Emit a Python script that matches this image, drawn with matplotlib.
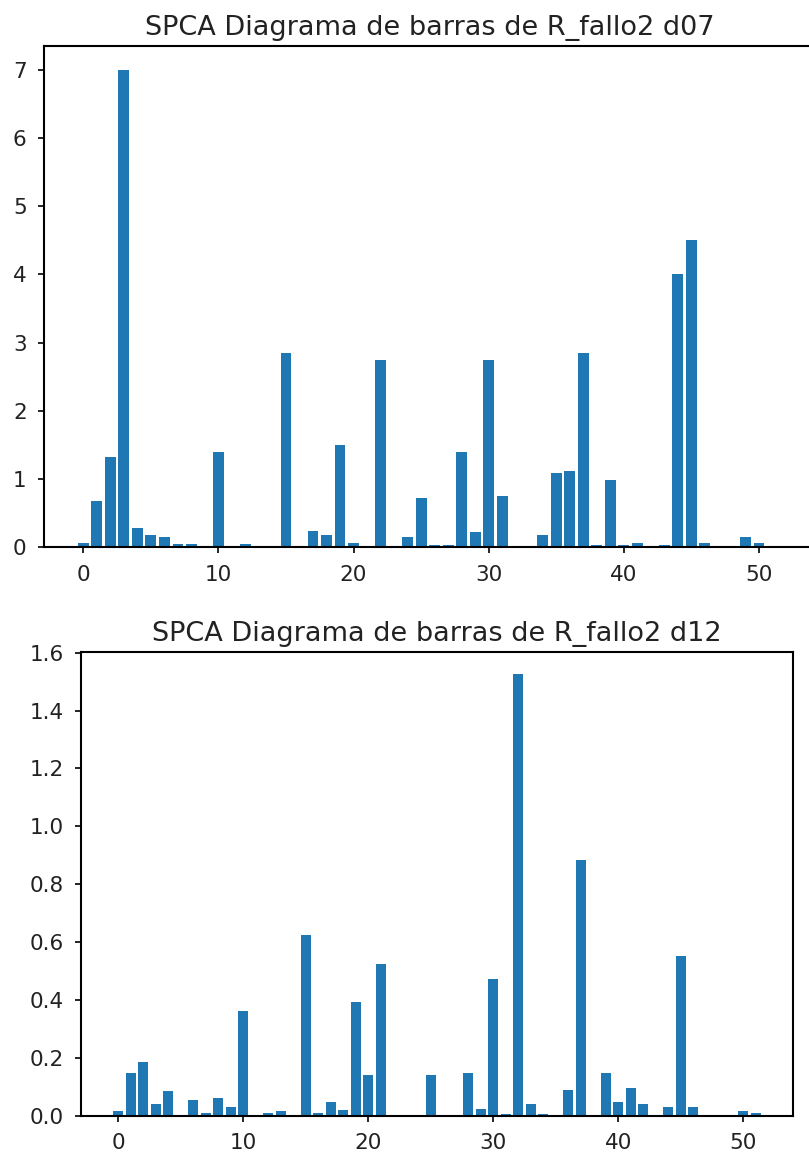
import numpy as np
import matplotlib.pyplot as plt

# pesos SPCA por variable para cada fallo
d07 = [0.07, 0.68, 1.32, 7.0, 0.28, 0.18, 0.15, 0.05, 0.05, 0.0,
       1.40, 0.0, 0.05, 0.0, 0.0, 2.85, 0.0, 0.24, 0.18, 1.50,
       0.07, 0.0, 2.75, 0.0, 0.15, 0.72, 0.04, 0.04, 1.40, 0.22,
       2.75, 0.75, 0.0, 0.0, 0.18, 1.09, 1.12, 2.85, 0.04, 0.98,
       0.04, 0.07, 0.0, 0.04, 4.0, 4.5, 0.07, 0.0, 0.0, 0.15,
       0.07]
d12 = [0.017, 0.150, 0.187, 0.040, 0.085, 0.0, 0.054, 0.010, 0.062, 0.031,
       0.364, 0.0, 0.010, 0.017, 0.0, 0.625, 0.010, 0.049, 0.020, 0.393,
       0.143, 0.525, 0.0, 0.0, 0.0, 0.143, 0.0, 0.0, 0.150, 0.025,
       0.473, 0.008, 1.525, 0.040, 0.008, 0.0, 0.091, 0.885, 0.0, 0.150,
       0.048, 0.098, 0.040, 0.0, 0.031, 0.554, 0.031, 0.0, 0.0, 0.0,
       0.017, 0.010]

W, H = 809, 1153
fig = plt.figure(figsize=(W / 100, H / 100), dpi=100)

def caja(x0, y0, x1, y1):
    return [x0 / W, 1 - y1 / H, (x1 - x0) / W, (y1 - y0) / H]

ax1 = fig.add_axes(caja(44, 45.7, 815, 547.3))
ax2 = fig.add_axes(caja(81, 652.3, 793.3, 1116))

for ax, datos, nombre in [(ax1, d07, 'd07'), (ax2, d12, 'd12')]:
    ax.bar(np.arange(len(datos)), datos, color='#1f77b4')
    ax.set_title('SPCA Diagrama de barras de R_fallo2 ' + nombre,
                 fontsize=19.5, pad=8, color='#222222')
    ax.tick_params(labelsize=15.5, length=4.5, width=1.2, pad=8,
                   labelcolor='#222222')
    for s in ax.spines.values():
        s.set_linewidth(1.5)

ax1.set_xlim(-2.91, 54.15)

plt.savefig('out.png', dpi=100)
